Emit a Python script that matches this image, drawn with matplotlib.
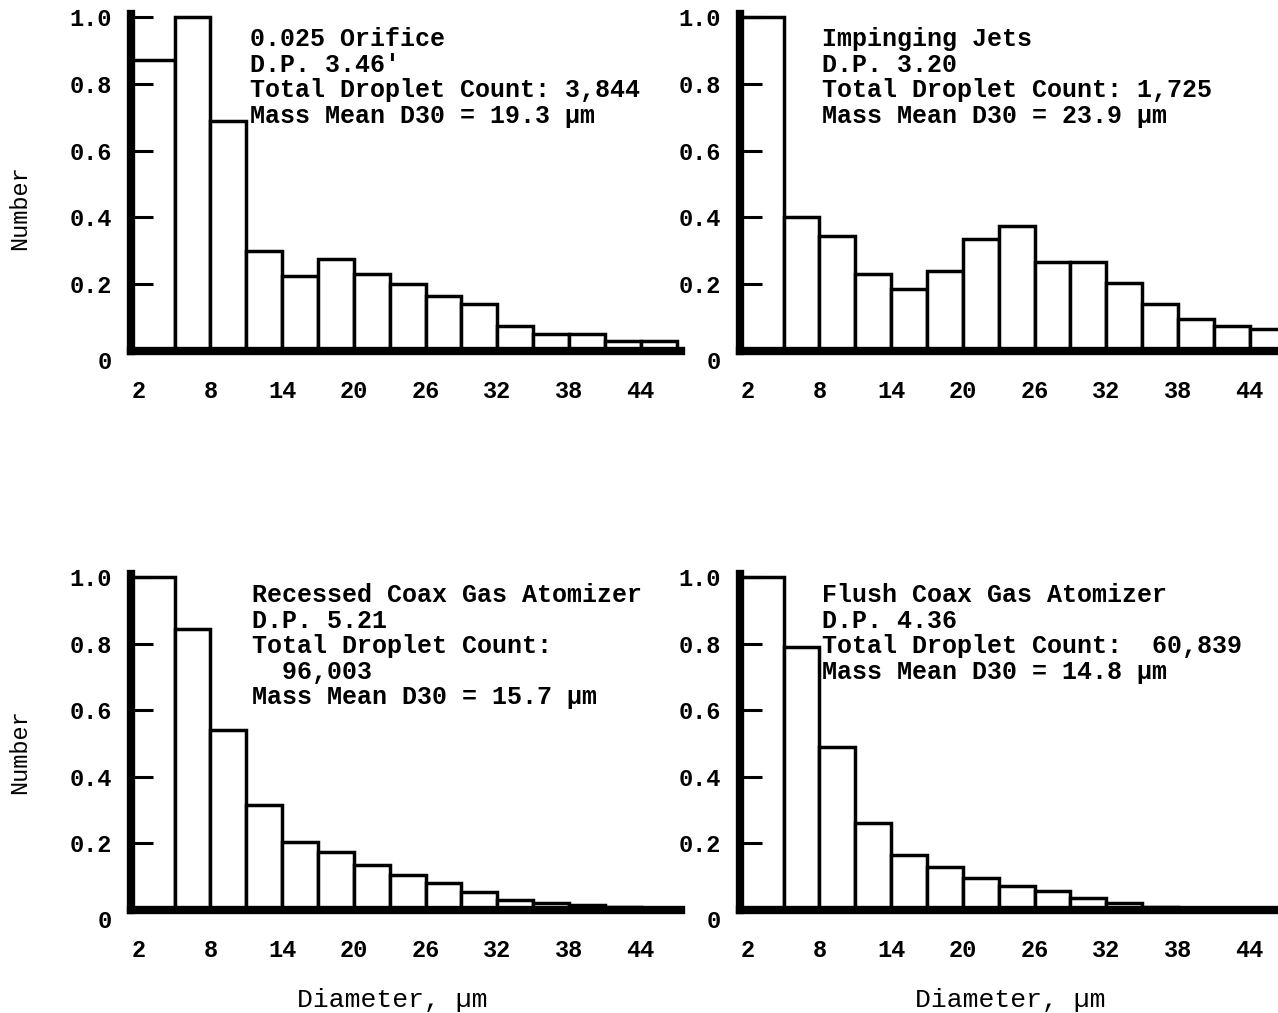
"""Droplet size distributions for four injector types (normalized number histograms)."""
import matplotlib
matplotlib.use('Agg')
import matplotlib.pyplot as plt
import numpy as np

plt.rcParams['font.family'] = ['Liberation Mono', 'DejaVu Sans Mono']

# 3 um diameter bins, 2 .. 47 um
bin_edges = np.arange(2, 48, 3)
tick_values = [2, 8, 14, 20, 26, 32, 38, 44]
y_ticks = [0, 0.2, 0.4, 0.6, 0.8, 1.0]
y_tick_labels = ['0', '0.2', '0.4', '0.6', '0.8', '1.0']

orifice = [0.87, 1.0, 0.69, 0.30, 0.225, 0.275, 0.23, 0.20, 0.165, 0.14, 0.075, 0.05, 0.05, 0.03, 0.03]
jets = [1.0, 0.40, 0.345, 0.23, 0.185, 0.24, 0.335, 0.375, 0.265, 0.265, 0.205, 0.14, 0.095, 0.075, 0.065]
recessed = [1.0, 0.845, 0.54, 0.315, 0.205, 0.175, 0.135, 0.105, 0.08, 0.055, 0.03, 0.02, 0.015, 0.008, 0.005]
flush = [1.0, 0.79, 0.49, 0.26, 0.165, 0.13, 0.095, 0.072, 0.058, 0.037, 0.02, 0.01, 0.005, 0.003, 0.002]

notes = [
    "0.025 Orifice\nD.P. 3.46'\nTotal Droplet Count: 3,844\nMass Mean D30 = 19.3 \u00b5m",
    "Impinging Jets\nD.P. 3.20\nTotal Droplet Count: 1,725\nMass Mean D30 = 23.9 \u00b5m",
    "Recessed Coax Gas Atomizer\nD.P. 5.21\nTotal Droplet Count:\n  96,003\nMass Mean D30 = 15.7 \u00b5m",
    "Flush Coax Gas Atomizer\nD.P. 4.36\nTotal Droplet Count:  60,839\nMass Mean D30 = 14.8 \u00b5m",
]

W, H = 1278, 1013
X_LO, X_HI = 1.35, 47.4
fig = plt.figure(figsize=(W / 100, H / 100), dpi=100)


def px(x, y):
    return x / W, 1 - y / H


# (left px, axis-line px, top px) for each panel
panels = [(131, 351, 17), (740, 351, 17), (131, 910, 577), (740, 910, 577)]
series = [orifice, jets, recessed, flush]
note_pos = [(250, 27), (822, 27), (252, 583), (822, 583)]

width_px = (X_HI - X_LO) * 11.95
for (lx, by, ty), vals, note, (nx, ny) in zip(panels, series, notes, note_pos):
    ax = fig.add_axes([lx / W, 1 - by / H, width_px / W, (by - ty) / H])
    lefts = bin_edges[:-1].astype(float)
    lefts[0] = X_LO
    widths = bin_edges[1:] - lefts
    ax.bar(lefts, vals, width=widths, align='edge', facecolor='white',
           edgecolor='black', linewidth=2.5, clip_on=False, zorder=1)
    ax.set_xlim(X_LO, X_HI)
    ax.set_ylim(0, 1.0)
    for side in ('top', 'right'):
        ax.spines[side].set_visible(False)
    for side in ('left', 'bottom'):
        ax.spines[side].set_linewidth(6)
        ax.spines[side].set_capstyle('projecting')
    ax.spines['left'].set_bounds(0, 1.01)
    ax.set_xticks(tick_values)
    ax.set_xticklabels([str(t) for t in tick_values])
    ax.set_yticks(y_ticks)
    ax.set_yticklabels(y_tick_labels)
    ax.tick_params(axis='x', length=0, pad=21, labelsize=17)
    ax.tick_params(axis='y', direction='in', length=16, width=2.2, pad=14, labelsize=17)
    for lbl in ax.get_xticklabels() + ax.get_yticklabels():
        lbl.set_fontweight('bold')
    ax.get_yticklabels()[0].set_verticalalignment('top')
    ax.patch.set_alpha(0)
    fig.text(*px(nx, ny), note, ha='left', va='top', fontsize=18,
             fontweight='bold', linespacing=1.08)

fig.text(*px(20, 208), 'Number', rotation=90, ha='center', va='center', fontsize=17)
fig.text(*px(20, 752), 'Number', rotation=90, ha='center', va='center', fontsize=17)
fig.text(*px(392, 1000), 'Diameter, \u00b5m', ha='center', va='center', fontsize=19)
fig.text(*px(1010, 1000), 'Diameter, \u00b5m', ha='center', va='center', fontsize=19)

fig.savefig('out.png', dpi=100)
